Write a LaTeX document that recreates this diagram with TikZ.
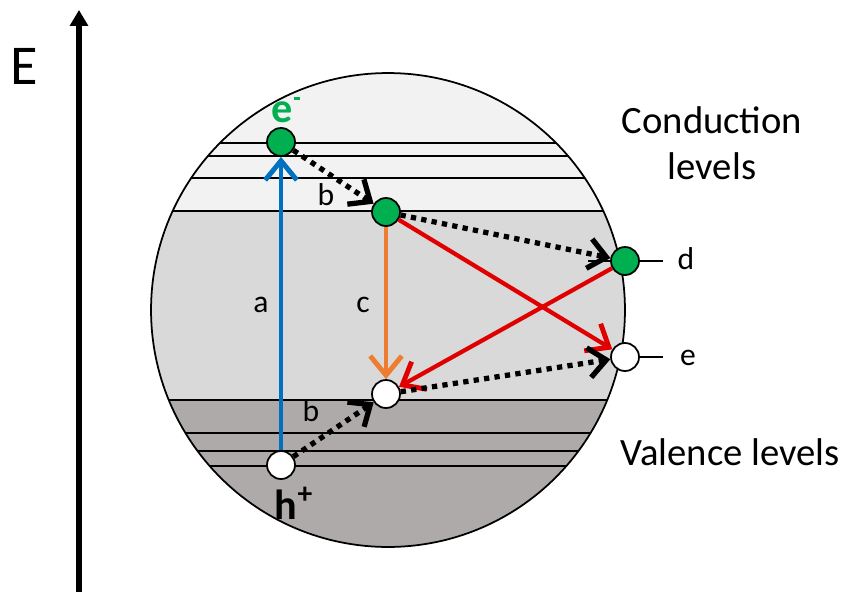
\documentclass[tikz,border=0pt]{standalone}
\usepackage{fontspec}
\setmainfont{Carlito}
\usepackage{tikz}
\usetikzlibrary{arrows.meta, positioning}
\definecolor{egreen}{HTML}{00B050}
\definecolor{ablue}{HTML}{0070C0}
\definecolor{corange}{HTML}{ED7D31}
\definecolor{rred}{HTML}{E00000}
\definecolor{cband}{HTML}{F2F2F2}
\definecolor{gband}{HTML}{D9D9D9}
\definecolor{vband}{HTML}{AEAAAA}

\begin{document}
\begin{tikzpicture}[
  x=0.02cm, y=-0.02cm,
  lvl/.style={line width=1pt},
  dotg/.style={circle, draw, line width=1pt, fill=egreen,
               minimum size=0.56cm, inner sep=0pt},
  dotw/.style={dotg, fill=white},
  lbl/.style={font=\fontsize{18}{22}\selectfont},
  big/.style={font=\fontsize{22}{26}\selectfont, align=center},
  hop/.style={line width=3pt, dash pattern=on 3pt off 3pt,
              -{Straight Barb[length=10pt, width=17pt, line width=3pt]}},
  arr/.style={-{Straight Barb[length=11pt, width=18pt, line width=2.8pt]}}
]
\useasboundingbox (0,0) rectangle (844,592);

% bands inside the sphere
\begin{scope}
  \clip (388,310) circle [radius=4.74cm];
  \fill[cband] (100,50) rectangle (700,211);
  \fill[gband] (100,211) rectangle (700,400);
  \fill[vband] (100,400) rectangle (700,580);
  \foreach \y in {143,156,178,211,400,433,451,466}
    \draw[lvl] (100,\y) -- (700,\y);
\end{scope}
\draw[line width=1pt] (388,310) circle [radius=4.74cm];

% energy axis
\coordinate (ax0) at (79,592);
\coordinate (ax1) at (79,10);
\draw[line width=3pt, -{Triangle[length=9pt, width=10pt]}] (ax0) -- (ax1);
\node[font=\fontsize{32}{36}\selectfont] (en) at (24,66) {E};

% side ticks
\coordinate (td0) at (588,261);
\coordinate (td1) at (663,261);
\coordinate (te0) at (625,357);
\coordinate (te1) at (663,357);
\draw[line width=1pt] (td0) -- (td1);
\draw[line width=1pt] (te0) -- (te1);

% carriers
\node[dotg] (ex)  at (281,142) {};
\node[dotg] (gc)  at (386,212) {};
\node[dotg] (dg)  at (625,261) {};
\node[dotw] (we)  at (625,357) {};
\node[dotw] (wm)  at (386,394) {};
\node[dotw] (hp)  at (281,465) {};

% transitions
\draw[arr, ablue, line width=2.8pt] (hp) -- (ex);
\draw[arr, corange, line width=1.8pt] (gc) -- (wm);
\draw[arr, rred, line width=2.4pt] (gc) -- (we);
\draw[arr, rred, line width=2.4pt] (dg) -- (wm);
\draw[hop] (ex) -- (gc);
\draw[hop] (gc) -- (dg);
\draw[hop] (hp) -- (wm);
\draw[hop] (wm) -- (we);

% labels
\node[lbl] (la) at (261,305) {a};
\node[lbl] (lb1) at (326,195) {b};
\node[lbl] (lb2) at (311,411) {b};
\node[lbl] (lc) at (363,305) {c};
\node[lbl] (ld) at (686,259) {d};
\node[lbl] (le) at (688,358) {e};
\node[font=\fontsize{24}{28}\selectfont\bfseries, text=egreen] (lem) at (286,110)
  {e\hspace{0.5pt}\rule[0.52em]{0.16em}{0.07em}};
\node[font=\fontsize{24}{28}\selectfont\bfseries] (lhp) at (294,503) {h\textsuperscript{+}};
\node[big] (lcb) at (712,143) {Conduction\\levels};
\node[big] (lvb) at (730,452) {Valence levels};
\end{tikzpicture}
\end{document}
